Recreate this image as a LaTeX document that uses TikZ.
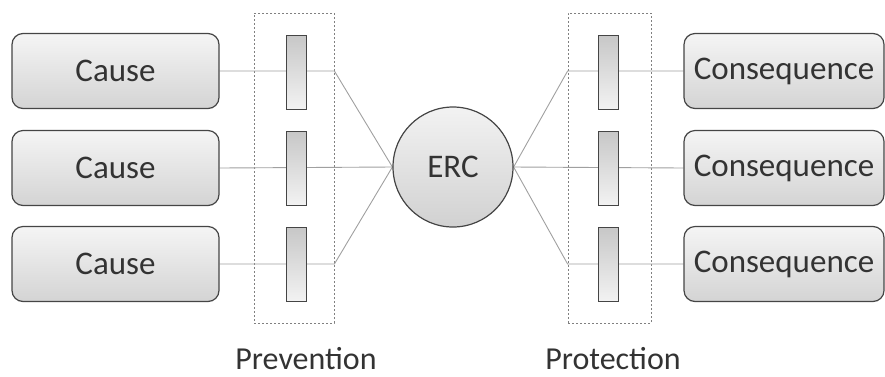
\documentclass[tikz,border=0pt]{standalone}
\usepackage{fontspec}
\setmainfont{Carlito}
\usetikzlibrary{backgrounds}
\definecolor{txt}{HTML}{333333}
\definecolor{edgec}{HTML}{454545}
\definecolor{lnc}{HTML}{A0A0A0}
\tikzset{
  box/.style={draw=edgec, line width=1.2pt, rounded corners=11pt, top color=black!4, bottom color=black!17,
    minimum height=75pt, inner sep=0pt, font=\fontsize{33}{33}\selectfont, text=txt},
  bar/.style={draw=edgec, line width=1pt, top color=black!22, bottom color=black!5,
    minimum width=20pt, minimum height=74pt, inner sep=0pt},
  hub/.style={circle, draw=edgec, line width=1.2pt, top color=black!5, bottom color=black!18,
    minimum size=120pt, inner sep=0pt, font=\fontsize{33}{33}\selectfont, text=txt},
  group/.style={draw=black!50, dash pattern=on 2pt off 2pt, line width=0.8pt, inner sep=0pt},
  link/.style={draw=lnc, line width=0.9pt},
  caption/.style={font=\fontsize{32}{32}\selectfont, text=txt, anchor=base, inner sep=0pt}
}
\begin{document}
\begin{tikzpicture}[x=1pt,y=-1pt]
\useasboundingbox (0,0) rectangle (885,376);
% causes
\node[box, minimum width=207pt] (c1) at (115.5,71) {Cause};
\node[box, minimum width=207pt] (c2) at (115.5,168) {Cause};
\node[box, minimum width=207pt] (c3) at (115.5,264) {Cause};
% consequences
\node[box, minimum width=200pt] (q1) at (784,71) {Consequence};
\node[box, minimum width=200pt] (q2) at (784,168) {Consequence};
\node[box, minimum width=200pt] (q3) at (784,264) {Consequence};
% barriers
\node[bar] (b1) at (296,72) {};
\node[bar] (b2) at (296,168) {};
\node[bar] (b3) at (296,264) {};
\node[bar] (p1) at (608.5,72) {};
\node[bar] (p2) at (608.5,168) {};
\node[bar] (p3) at (608.5,264) {};
% hub
\node[hub] (erc) at (453,167) {ERC};
% captions
\node[caption] (lprev) at (306,369) {Prevention};
\node[caption] (lprot) at (613,369) {Protection};
\begin{scope}[on background layer]
  \node[group, minimum width=80pt, minimum height=310pt] (pv) at (294,168) {};
  \node[group, minimum width=83pt, minimum height=310pt] (pt) at (609.5,168) {};
  \draw[link] (c1.east) -- (c1.east -| pv.east) -- (erc.west);
  \draw[link] (c2.east) -- (erc.west);
  \draw[link] (c3.east) -- (c3.east -| pv.east) -- (erc.west);
  \draw[link] (erc.east) -- (q1.west -| pt.west) -- (q1.west);
  \draw[link] (erc.east) -- (q2.west);
  \draw[link] (erc.east) -- (q3.west -| pt.west) -- (q3.west);
\end{scope}
\end{tikzpicture}
\end{document}
